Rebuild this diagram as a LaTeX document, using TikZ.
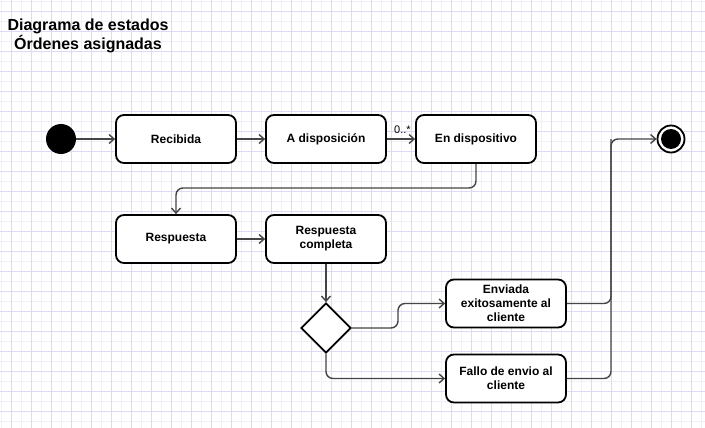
\documentclass[tikz,border=0pt]{standalone}
\usepackage{fontspec}
\setmainfont{Liberation Sans}
\usetikzlibrary{arrows.meta,shapes.geometric}
\definecolor{gridA}{RGB}{222,218,245}
\definecolor{gridB}{RGB}{241,239,250}
\definecolor{edgec}{RGB}{68,68,68}
\begin{document}
\begin{tikzpicture}[x=1pt,y=-1pt,
  state/.style={draw=black,line width=1.8pt,rounded corners=8pt,minimum width=120pt,minimum height=48pt,inner sep=0pt,font=\fontsize{12}{14}\selectfont\bfseries,align=center,fill=white},
  conn/.style={draw=edgec,line width=1.4pt,rounded corners=7pt,-{Straight Barb[length=5pt,width=9pt]}},
  link/.style={draw=edgec,line width=1.4pt,rounded corners=7pt}]
\useasboundingbox (0,0) rectangle (705,428);
\fill[white] (0,0) rectangle (705,428);
\foreach \i in {1,21,...,705} \draw[gridB,line width=0.8pt] (\i,0) -- (\i,428);
\foreach \i in {1,21,...,428} \draw[gridB,line width=0.8pt] (0,\i) -- (705,\i);
\foreach \i in {11,31,...,705} \draw[gridA,line width=0.8pt] (\i,0) -- (\i,428);
\foreach \i in {11,31,...,428} \draw[gridA,line width=0.8pt] (0,\i) -- (705,\i);

\node[font=\fontsize{16}{17}\selectfont\bfseries,align=center] (title) at (88,36) {Diagrama de estados\\Órdenes asignadas};

\node[circle,fill=black,minimum size=30pt,inner sep=0pt] (init) at (61,139) {};
\node[state] (rec) at (176,139) {Recibida};
\node[state] (disp) at (326,139) {A disposición};
\node[state] (endisp) at (476,139) {En dispositivo};
\node[state] (resp) at (176,239) {Respuesta};
\node[state] (respc) at (326,239) {Respuesta\\completa};
\node[diamond,draw=black,line width=1.8pt,fill=white,minimum width=50pt,minimum height=50pt,inner sep=0pt] (dec) at (326,328) {};
\node[state] (env) at (506,303.5) {Enviada\\exitosamente al\\cliente};
\node[state] (fallo) at (506,378.5) {Fallo de envio al\\cliente};
\node[circle,draw=black,line width=1.8pt,fill=white,minimum size=27pt,inner sep=0pt] (fin) at (671,139) {};
\node[circle,fill=black,minimum size=20pt,inner sep=0pt] (finin) at (671,139) {};

\coordinate (j) at (611,139);
\draw[conn] (init) -- (rec);
\draw[conn] (rec) -- (disp);
\draw[conn] (disp) -- node[pos=0.55,above=1pt,font=\fontsize{11}{12}\selectfont] (lbl) {0..*} (endisp);
\draw[conn] (endisp.south) |- (300,188) -| (resp.north);
\draw[conn] (resp) -- (respc);
\draw[conn] (respc.south) -- (dec.north);
\draw[conn] (dec.east) -- (398,328) |- (env.west);
\draw[conn] (dec.south) |- (fallo.west);
\draw[link] (env.east) -| (j);
\draw[conn] (fallo.east) -| (j) -- (fin.west);
\end{tikzpicture}
\end{document}
